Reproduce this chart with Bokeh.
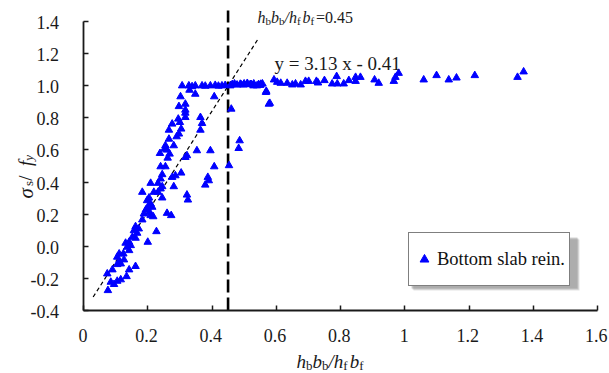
from bokeh.plotting import figure
from bokeh.models import (Range1d, FixedTicker, Label, Legend, LegendItem, LinearAxis)
from bokeh.embed import file_html
from bokeh.resources import INLINE

# ---------------- data ----------------
x_ticks = [0, 0.2, 0.4, 0.6, 0.8, 1.0, 1.2, 1.4, 1.6]
x_tick_labels = ["0", "0.2", "0.4", "0.6", "0.8", "1", "1.2", "1.4", "1.6"]
y_ticks = [-0.4, -0.2, 0.0, 0.2, 0.4, 0.6, 0.8, 1.0, 1.2, 1.4]
y_tick_labels = ["-0.4", "-0.2", "0.0", "0.2", "0.4", "0.6", "0.8", "1.0", "1.2", "1.4"]

ratio = [
    # plateau
    0.307, 0.328, 0.338, 0.348, 0.369, 0.379, 0.395, 0.410, 0.420, 0.431, 0.441, 0.457,
    0.478, 0.488, 0.498, 0.509, 0.519, 0.529, 0.545, 0.550,
    0.463, 0.470, 0.490, 0.500, 0.510, 0.522, 0.530, 0.540, 0.552, 0.557,
    # right plateau
    0.569, 0.580, 0.593, 0.603, 0.614, 0.634, 0.650, 0.660, 0.676, 0.691, 0.701, 0.725,
    0.730, 0.750, 0.774, 0.790, 0.788, 0.810, 0.826, 0.847, 0.847, 0.862, 0.906, 0.919,
    0.966, 0.971, 0.981, 1.059, 1.099, 1.137, 1.161, 1.218, 1.351, 1.370,
    # rising branch
    0.330, 0.348, 0.302, 0.407, 0.568, 0.577, 0.317, 0.297, 0.317, 0.317, 0.317, 0.460,
    0.364, 0.369, 0.364, 0.295, 0.300, 0.276, 0.304, 0.266, 0.297, 0.290, 0.266, 0.281,
    0.255, 0.252, 0.238, 0.260, 0.268, 0.262, 0.322, 0.317, 0.353, 0.395, 0.486, 0.483,
    0.240, 0.255, 0.407, 0.453, 0.304, 0.245, 0.276, 0.286, 0.240, 0.387, 0.390, 0.379,
    0.209, 0.281, 0.232, 0.245, 0.240, 0.232, 0.219, 0.183, 0.322, 0.325, 0.245, 0.204,
    0.198, 0.209, 0.200, 0.214, 0.194, 0.206, 0.188, 0.217, 0.209, 0.260, 0.273, 0.183,
    0.162, 0.172, 0.157, 0.227, 0.167, 0.152, 0.162, 0.200, 0.142, 0.131, 0.147, 0.136,
    0.142, 0.111, 0.124, 0.105, 0.126, 0.111, 0.116, 0.105, 0.162, 0.142, 0.090, 0.074,
    0.134, 0.116, 0.105, 0.085, 0.095, 0.076,
]
stress = [
    1.000, 1.000, 0.995, 1.000, 1.000, 0.998, 1.000, 1.003, 0.998, 1.000, 1.002, 1.000,
    1.005, 1.010, 1.005, 1.010, 1.008, 1.000, 1.008, 1.003,
    1.008, 1.012, 1.008, 1.012, 1.015, 1.008, 1.012, 1.000, 1.010, 1.012,
    0.966, 0.891, 1.037, 1.022, 1.016, 1.016, 1.006, 1.012, 1.006, 1.028, 1.028, 1.028,
    1.018, 1.033, 1.012, 1.012, 1.058, 1.012, 1.033, 1.053, 1.028, 1.053, 1.037, 1.016,
    1.028, 1.053, 1.078, 1.037, 1.064, 1.037, 1.049, 1.064, 1.053, 1.087,
    0.973, 0.948, 0.932, 0.932, 0.959, 0.886, 0.886, 0.871, 0.849, 0.830, 0.803, 0.855,
    0.803, 0.766, 0.724, 0.793, 0.772, 0.762, 0.731, 0.724, 0.700, 0.683, 0.668, 0.627,
    0.627, 0.606, 0.579, 0.600, 0.575, 0.550, 0.565, 0.554, 0.596, 0.596, 0.658, 0.610,
    0.496, 0.496, 0.496, 0.503, 0.457, 0.447, 0.430, 0.440, 0.420, 0.430, 0.409, 0.382,
    0.393, 0.372, 0.393, 0.372, 0.358, 0.337, 0.337, 0.337, 0.320, 0.289, 0.302, 0.302,
    0.285, 0.264, 0.244, 0.244, 0.227, 0.212, 0.202, 0.185, 0.192, 0.206, 0.192, 0.165,
    0.123, 0.109, 0.098, 0.092, 0.082, 0.057, 0.051, 0.026, 0.026, 0.020, 0.005, -0.005,
    -0.026, -0.047, -0.047, -0.067, -0.084, -0.098, -0.109, -0.113, -0.125, -0.146, -0.146, -0.171,
    -0.188, -0.208, -0.217, -0.223, -0.237, -0.275,
]

slope, intercept = 3.13, -0.41
fit_x = [0.03, 0.546]
threshold = 0.45
series_name = "Bottom slab rein."

# ---------------- layout (pixel geometry of the plot area) ----------------
W, H = 609, 373
PL, PR, PT, PB = 83, 597, 21, 310     # plot-area edges in pixels (x 0..1.6, y 1.4..-0.4)
XA, XB = x_ticks[0], x_ticks[-1]
YA, YB = y_ticks[0], y_ticks[-1]
SX = (XB - XA) / (PR - PL)            # data units per pixel
SY = (YB - YA) / (PB - PT)

def px2x(px):
    return XA + (px - PL) * SX

def py2y(py):
    return YA + (PB - py) * SY

FONT = "Liberation Serif"
INK = "#1a1a1a"

# advance widths (em) used to lay out left-aligned text pieces
WID = {
    ("n", "h"): 0.5, ("i", "h"): 0.5, ("i", "b"): 0.5, ("i", "f"): 0.278,
    ("i", "y"): 0.444, ("i", "s"): 0.389, ("n", "s"): 0.389, ("i", "/"): 0.278,
    ("n", "/"): 0.278, ("n", " "): 0.25, ("n", "="): 0.564, ("n", "."): 0.25,
    ("n", "-"): 0.333, ("i", "σ"): 0.60, ("n", "x"): 0.5, ("n", "y"): 0.5,
}
# numeric tick strings come out in the fallback face, whose widths differ
NUMW = {".": 0.278, "-": 0.333}

def twidth(text, style, size):
    s = "i" if style == "italic" else "n"
    return sum(WID.get((s, c), 0.5) for c in text) * size

def numwidth(text, size):
    return sum(NUMW.get(c, 0.556) for c in text) * size

# the drawing frame covers the whole canvas; the axes sit at fixed data locations
p = figure(width=W, height=H, output_backend="svg", toolbar_location=None,
           x_range=Range1d(px2x(0), px2x(W)), y_range=Range1d(py2y(H), py2y(0)),
           x_axis_location=None, y_axis_location=None, min_border=0)
p.outline_line_color = None
p.grid.visible = False

def style_axis(ax):
    ax.axis_line_color = INK
    ax.axis_line_width = 1.8
    ax.major_tick_line_color = INK
    ax.major_tick_line_width = 1.5
    ax.major_tick_in = 5
    ax.major_tick_out = 0
    ax.minor_tick_line_color = None
    ax.major_label_text_color = None
    ax.major_label_text_font_size = "0px"
    ax.major_label_standoff = 0

xax = LinearAxis(fixed_location=YA, bounds=(XA, XB), ticker=FixedTicker(ticks=x_ticks))
yax = LinearAxis(fixed_location=XA, bounds=(YA, YB), ticker=FixedTicker(ticks=y_ticks))
style_axis(xax)
style_axis(yax)
p.add_layout(xax, "below")
p.add_layout(yax, "left")

def plain_label(x, y, text, size=19):
    p.add_layout(Label(x=x, y=y, text=text, text_font=FONT,
                       text_font_size=f"{size}px", text_color=INK,
                       text_align="left", text_baseline="alphabetic"))

# tick labels, one label per tick value; centred / right-aligned by width
TS = 18
for t, lbl in zip(x_ticks, x_tick_labels):
    plain_label(t - numwidth(lbl, TS) / 2 * SX, py2y(PB + 25), lbl, TS)
for t, lbl in zip(y_ticks, y_tick_labels):
    plain_label(px2x(PL - 22 - numwidth(lbl, TS)), t - 1 * SY, lbl, TS)

# legend shadow (decoration behind legend box)
LB_L, LB_T, LB_R, LB_B = 408, 234, 575, 286
for off, alpha in ((4, 0.22), (3, 0.3), (2, 0.35)):
    p.quad(left=[px2x(LB_L + off + 1)], right=[px2x(LB_R + off)],
           top=[py2y(LB_T + off + 1)], bottom=[py2y(LB_B + off)],
           fill_color="#808080", fill_alpha=alpha, line_color=None)

# threshold line (reaches a little above the top tick)
p.line([threshold, threshold], [YA, py2y(10)], line_color="black",
       line_width=2.6, line_dash="13 5")

# fit line
p.line(fit_x, [slope * v + intercept for v in fit_x], line_color="black",
       line_width=1.2, line_dash="4 3")

r = p.scatter(ratio, stress, marker="triangle", size=7.5,
              fill_color="#0000ff", line_color="#0000ff")

legend = Legend(items=[LegendItem(label=series_name, renderers=[r])],
                location=(LB_L, H - LB_B), orientation="vertical",
                border_line_color="black", border_line_width=1.2,
                background_fill_color="white", background_fill_alpha=1,
                label_text_font=FONT, label_text_font_size="18.5px",
                label_text_color="#111111", padding=4, spacing=0, margin=0,
                glyph_width=22, glyph_height=44, label_height=44,
                label_standoff=2)
p.add_layout(legend)

# ------------- composed rich-text labels -------------
def rich(pieces, start, base, vertical=False):
    """pieces: (text, style, size_px, shift_px); shift>0 = subscript."""
    pos = start
    for text, style, size, shift in pieces:
        common = dict(text=text, text_font=FONT, text_font_style=style,
                      text_font_size=f"{size}px", text_color=INK,
                      text_align="left", text_baseline="alphabetic")
        if vertical:
            lab = Label(x=px2x(base + shift), y=py2y(pos), angle=1.5707963, **common)
            pos -= twidth(text, style, size)
        else:
            lab = Label(x=px2x(pos), y=py2y(base + shift), **common)
            pos += twidth(text, style, size)
        p.add_layout(lab)

# threshold annotation
rich([("h", "italic", 16, 0), ("b", "normal", 11, 3), ("b", "italic", 16, 0),
      ("b", "normal", 11, 3), ("/", "italic", 16, 0), ("h", "italic", 16, 0),
      ("f", "normal", 11, 3), ("b", "italic", 16, 0), ("f", "normal", 11, 3),
      ("=0.45", "normal", 16, 0)], 257, 17)

# fit equation
plain_label(px2x(274), py2y(63), f"y = {slope:.2f} x - {abs(intercept):.2f}", 19)

# y-axis title:  σ_s / f_y
rich([("σ", "italic", 21, 0), ("s", "normal", 13, 3), (" / ", "normal", 19, 0),
      ("f", "italic", 19, 0), ("y", "italic", 13, 3)], 198, 25, vertical=True)

# x-axis title:  h_b b_b / h_f b_f
rich([("h", "italic", 19, 0), ("b", "normal", 13, 4), ("b", "italic", 19, 0),
      ("b", "normal", 13, 4), ("/", "italic", 19, 0), ("h", "italic", 19, 0),
      ("f", "normal", 13, 4), ("b", "italic", 19, 0), ("f", "normal", 13, 4)], 296, 361)

open("out.html", "w").write(file_html(p, INLINE))
